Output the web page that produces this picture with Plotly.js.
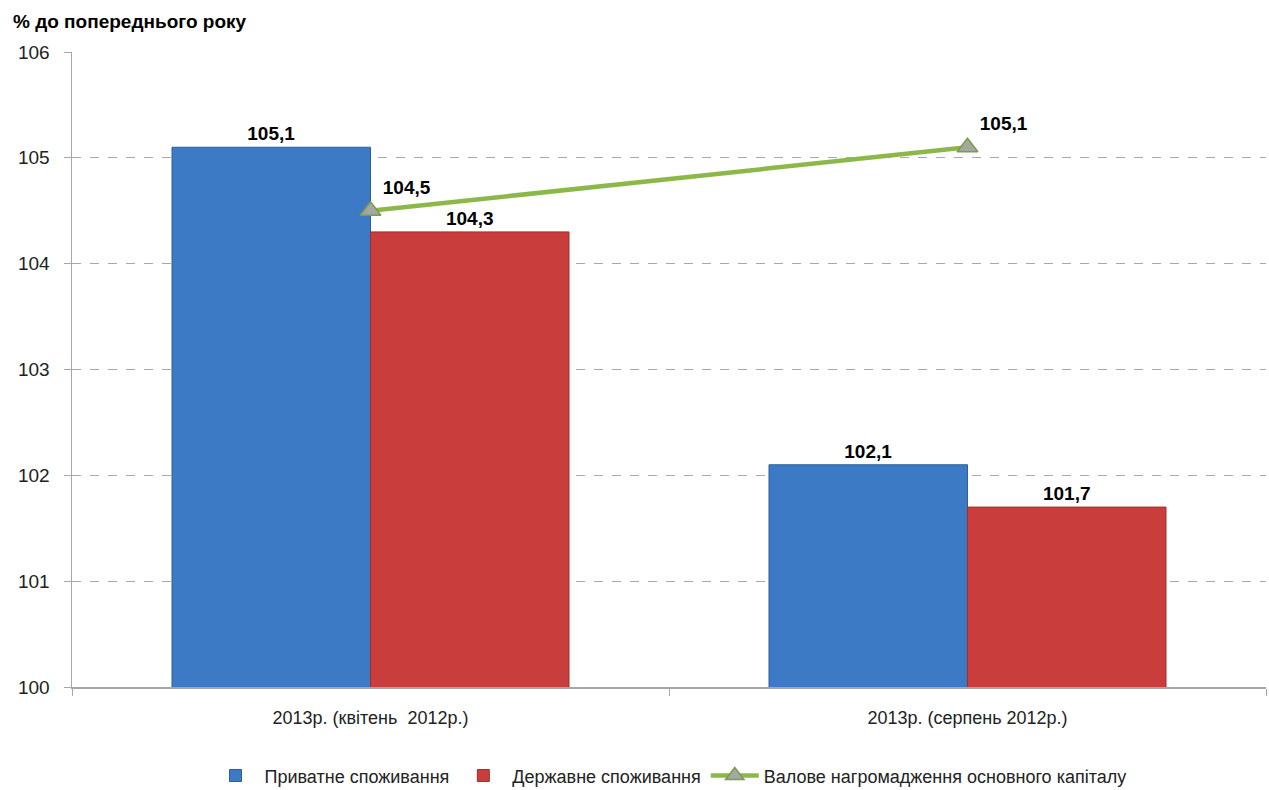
<!DOCTYPE html>
<html>
<head>
<meta charset="utf-8">
<script src="https://cdn.plot.ly/plotly-3.0.1.min.js"></script>
<style>
    html, body { margin: 0; padding: 0; background: #fff; }
    #chart { width: 1269px; height: 790px; }
</style>
</head>
<body>
<div id="chart"></div>
<script>
const categories = ['2013р. (квітень  2012р.)', '2013р. (серпень 2012р.)'];
const privateCons = [105.1, 102.1];
const publicCons = [104.3, 101.7];
const grossCapital = [104.5, 105.1];

const seriesNames = ['Приватне споживання', 'Державне споживання', 'Валове нагромадження основного капіталу'];

const labelFont = { family: 'Liberation Sans, Arial, sans-serif', size: 19, color: '#000' };
const fmt = v => '<b>' + v.toFixed(1).replace('.', ',') + '</b>';

const traces = [
    {
        type: 'bar',
        name: seriesNames[0],
        x: categories,
        y: privateCons,
        marker: { color: '#3d7ac6', line: { color: '#2d5f9e', width: 1 } },
        text: privateCons.map(fmt),
        textposition: 'outside',
        textfont: labelFont,
        cliponaxis: false,
        hoverinfo: 'skip'
    },
    {
        type: 'bar',
        name: seriesNames[1],
        x: categories,
        y: publicCons,
        marker: { color: '#c93e3c', line: { color: '#9e2f2d', width: 1 } },
        text: publicCons.map(fmt),
        textposition: 'outside',
        textfont: labelFont,
        cliponaxis: false,
        hoverinfo: 'skip'
    },
    {
        type: 'scatter',
        mode: 'lines+markers+text',
        name: seriesNames[2],
        x: categories,
        y: grossCapital,
        line: { color: '#8cb84a', width: 4.5 },
        marker: { symbol: 'triangle-up', size: 18, color: '#a3a8a0', line: { color: '#7c9c4c', width: 1.5 } },
        text: grossCapital.map(fmt),
        textposition: 'top right',
        textfont: labelFont,
        cliponaxis: false,
        hoverinfo: 'skip'
    }
];

const layout = {
    width: 1269,
    height: 790,
    margin: { l: 72, r: 3, t: 52, b: 103, autoexpand: false },
    paper_bgcolor: '#fff',
    plot_bgcolor: '#fff',
    font: { family: 'Liberation Sans, Arial, sans-serif', size: 16, color: '#222' },
    barmode: 'group',
    bargap: 0.335,
    bargroupgap: 0,
    showlegend: true,
    legend: {
        orientation: 'h',
        x: 0.5, xanchor: 'center',
        yref: 'container',
        y: 0.018, yanchor: 'middle',
        font: { size: 18, color: '#222' },
        itemwidth: 48,
        traceorder: 'normal'
    },
    xaxis: {
        type: 'category',
        showline: true,
        linecolor: '#a6a6a6',
        linewidth: 1.5,
        ticks: 'outside',
        tickson: 'boundaries',
        ticklen: 7,
        tickcolor: '#a6a6a6',
        ticklabelstandoff: 14,
        tickfont: { size: 18, color: '#222' },
        showgrid: false,
        zeroline: false
    },
    yaxis: {
        range: [100, 106],
        dtick: 1,
        showline: true,
        linecolor: '#a6a6a6',
        linewidth: 1.5,
        ticks: 'outside',
        ticklen: 7,
        tickcolor: '#a6a6a6',
        ticklabelstandoff: 10,
        tickfont: { size: 19, color: '#222' },
        showgrid: true,
        gridcolor: '#a8a8a8',
        griddash: 'dash',
        gridwidth: 1,
        zeroline: false
    },
    annotations: [
        {
            text: '<b>% до попереднього року</b>',
            xref: 'paper', yref: 'paper',
            x: -0.051, y: 1.028,
            xanchor: 'left', yanchor: 'bottom',
            showarrow: false,
            font: { family: 'Liberation Sans, Arial, sans-serif', size: 19, color: '#000' }
        }
    ]
};

Plotly.newPlot('chart', traces, layout, { displayModeBar: false, staticPlot: true });
</script>
</body>
</html>
